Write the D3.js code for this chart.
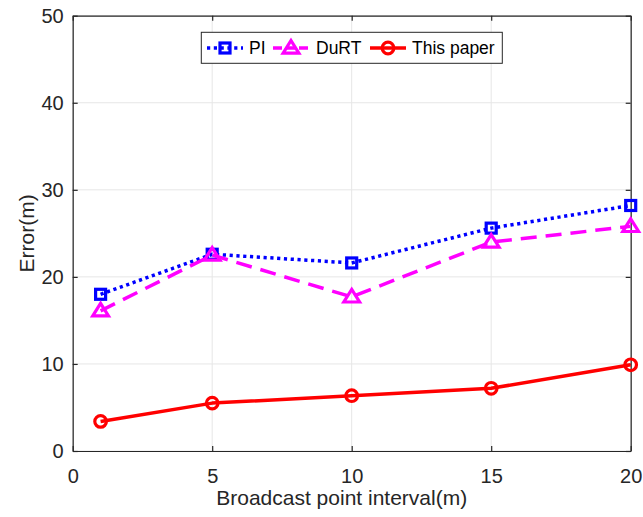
<!DOCTYPE html>
<html>
<head>
<meta charset="utf-8">
<script src="https://cdn.jsdelivr.net/npm/d3@7"></script>
<style>
  html, body { margin: 0; padding: 0; background: #fff; }
  svg { display: block; font-family: "Liberation Sans", Arial, sans-serif; }
</style>
</head>
<body>
<svg id="chart" width="643" height="517"></svg>
<script>
// Broadcast point interval (m)
const intervals = [1, 5, 10, 15, 20];
// Positioning error (m) for each method
const piError = [18.0, 22.6, 21.6, 25.6, 28.2];
const durtError = [16.1, 22.5, 17.7, 24.0, 25.8];
const oursError = [3.4, 5.5, 6.35, 7.2, 9.9];

const xTicks = [0, 5, 10, 15, 20];
const yTicks = [0, 10, 20, 30, 40, 50];
const seriesNames = ["PI", "DuRT", "This paper"];

const svg = d3.select("#chart");
const W = 643, H = 517;
const margin = { left: 72.7, top: 15.7, right: W - 630.7, bottom: H - 451 };
const x = d3.scaleLinear().domain([0, 20]).range([margin.left, W - margin.right]);
const y = d3.scaleLinear().domain([0, 50]).range([H - margin.bottom, margin.top]);

const axisColor = "#262626";
const gridColor = "#e6e6e6";

// grid lines
svg.append("g").selectAll("line").data(xTicks).join("line")
  .attr("x1", d => x(d)).attr("x2", d => x(d))
  .attr("y1", y(0)).attr("y2", y(50))
  .attr("stroke", gridColor).attr("stroke-width", 1);
svg.append("g").selectAll("line").data(yTicks).join("line")
  .attr("x1", x(0)).attr("x2", x(20))
  .attr("y1", d => y(d)).attr("y2", d => y(d))
  .attr("stroke", gridColor).attr("stroke-width", 1);

// axes (ticks point inward, full box)
const tickLen = 5;
const fontSize = 20;
const xAxis = d3.axisBottom(x).tickValues(xTicks).tickSizeInner(-tickLen).tickSizeOuter(0).tickPadding(18);
const yAxis = d3.axisLeft(y).tickValues(yTicks).tickSizeInner(-tickLen).tickSizeOuter(0).tickPadding(9);
const xTop = d3.axisTop(x).tickValues(xTicks).tickSizeInner(-tickLen).tickSizeOuter(0).tickFormat("");
const yRight = d3.axisRight(y).tickValues(yTicks).tickSizeInner(-tickLen).tickSizeOuter(0).tickFormat("");

function styleAxis(g) {
  g.select(".domain").attr("stroke", axisColor).attr("stroke-width", 1.2);
  g.selectAll(".tick line").attr("stroke", axisColor).attr("stroke-width", 1.2);
  g.selectAll(".tick text").attr("fill", axisColor).attr("font-size", fontSize)
    .attr("font-family", "Liberation Sans, Arial, sans-serif");
}
svg.append("g").attr("transform", `translate(0,${y(0)})`).call(xAxis).call(styleAxis);
svg.append("g").attr("transform", `translate(${x(0)},0)`).call(yAxis).call(styleAxis);
svg.append("g").attr("transform", `translate(0,${y(50)})`).call(xTop).call(styleAxis);
svg.append("g").attr("transform", `translate(${x(20)},0)`).call(yRight).call(styleAxis);

// axis titles
svg.append("text")
  .attr("x", (x(0) + x(20)) / 2 - 10).attr("y", 505)
  .attr("text-anchor", "middle").attr("font-size", 21).attr("fill", axisColor)
  .text("Broadcast point interval(m)");
svg.append("text")
  .attr("transform", `translate(34,${(y(0) + y(50)) / 2}) rotate(-90)`)
  .attr("text-anchor", "middle").attr("font-size", 21).attr("fill", axisColor)
  .text("Error(m)");

// series definitions
const series = [
  { name: seriesNames[0], values: piError, color: "#0000ff", dash: "3.2,3.6", marker: "square" },
  { name: seriesNames[1], values: durtError, color: "#ff00ff", dash: "16,9", marker: "triangle" },
  { name: seriesNames[2], values: oursError, color: "#ff0000", dash: null, marker: "circle" }
];

const line = d3.line().x(d => x(d[0])).y(d => y(d[1]));

function drawMarker(g, type, color, cx, cy) {
  if (type === "square") {
    g.append("rect").attr("x", cx - 5).attr("y", cy - 5).attr("width", 10).attr("height", 10)
      .attr("fill", "none").attr("stroke", color).attr("stroke-width", 3.2);
  } else if (type === "triangle") {
    const s = 7.5;
    g.append("path")
      .attr("d", `M${cx},${cy - s}L${cx + s * 1.05},${cy + s * 0.68}L${cx - s * 1.05},${cy + s * 0.68}Z`)
      .attr("fill", "none").attr("stroke", color).attr("stroke-width", 3.2);
  } else {
    g.append("circle").attr("cx", cx).attr("cy", cy).attr("r", 5.8)
      .attr("fill", "none").attr("stroke", color).attr("stroke-width", 3.2);
  }
}

const plot = svg.append("g");
series.forEach(s => {
  const pts = intervals.map((v, i) => [v, s.values[i]]);
  const g = plot.append("g");
  g.append("path").datum(pts).attr("d", line)
    .attr("fill", "none").attr("stroke", s.color).attr("stroke-width", 3.5)
    .attr("stroke-dasharray", s.dash).attr("stroke-linejoin", "round");
  pts.forEach(p => drawMarker(g, s.marker, s.color, x(p[0]), y(p[1])));
});

// legend
const lg = svg.append("g");
lg.append("rect").attr("x", 201.3).attr("y", 32.3).attr("width", 301).attr("height", 31)
  .attr("fill", "#fff").attr("stroke", axisColor).attr("stroke-width", 1);
const legendItems = [
  { s: series[0], x0: 207, tx: 249 },
  { s: series[1], x0: 273, tx: 316 },
  { s: series[2], x0: 370, tx: 412 }
];
legendItems.forEach(it => {
  const cy = 48;
  lg.append("line").attr("x1", it.x0).attr("x2", it.x0 + 36).attr("y1", cy).attr("y2", cy)
    .attr("stroke", it.s.color).attr("stroke-width", 3.5)
    .attr("stroke-dasharray", it.s.marker === "triangle" ? "9,4" : it.s.dash);
  drawMarker(lg, it.s.marker, it.s.color, it.x0 + 18, cy);
  lg.append("text").attr("x", it.tx).attr("y", cy + 6).attr("font-size", 17.5).attr("fill", "#000")
    .text(it.s.name);
});
</script>
</body>
</html>
